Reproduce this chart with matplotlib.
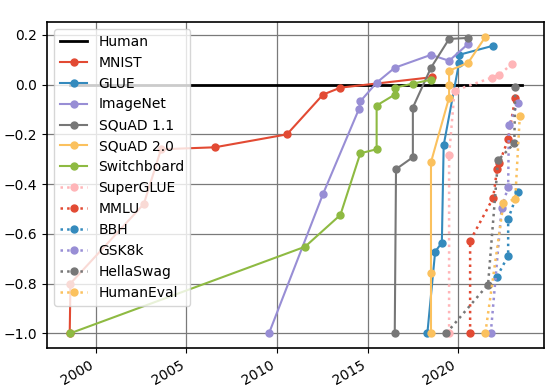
import matplotlib
matplotlib.use("Agg")
import matplotlib.pyplot as plt

# ggplot colour cycle
colors = ["#E24A33", "#348ABD", "#988ED5", "#777777", "#FBC15E", "#8EBA42", "#FFB5B8"]

human_x = [1998.6, 2023.5]
human_y = [0.0, 0.0]

mnist_x = [1998.56, 1998.6, 2002.65, 2003.6, 2006.57, 2010.55, 2012.54, 2013.5, 2018.56]
mnist_y = [-1.0, -0.80, -0.48, -0.26, -0.252, -0.2, -0.04, -0.012, 0.03]

glue_x = [2018.3, 2018.73, 2019.1, 2019.2, 2020.05, 2020.05, 2021.9]
glue_y = [-1.0, -0.672, -0.636, -0.244, 0.088, 0.12, 0.156]

imagenet_x = [2009.56, 2012.54, 2014.53, 2014.6, 2015.5, 2016.5, 2018.5, 2019.5, 2020.55]
imagenet_y = [-1.0, -0.44, -0.097, -0.067, 0.008, 0.068, 0.12, 0.096, 0.164]

squad1_x = [2016.5, 2016.57, 2017.5, 2017.5, 2018.5, 2019.5, 2020.55]
squad1_y = [-1.0, -0.34, -0.292, -0.092, 0.068, 0.184, 0.188]

squad2_x = [2018.5, 2018.5, 2018.5, 2019.5, 2019.5, 2019.5, 2020.55, 2021.5]
squad2_y = [-1.0, -0.756, -0.312, -0.052, 0.0, 0.056, 0.088, 0.192]

switchboard_x = [1998.6, 2011.55, 2013.5, 2014.6, 2015.5, 2015.5, 2016.5, 2016.5, 2017.5, 2018.5]
switchboard_y = [-1.0, -0.652, -0.524, -0.276, -0.26, -0.084, -0.04, -0.012, 0.004, 0.02]

superglue_x = [2019.5, 2019.5, 2019.8, 2021.85, 2022.27, 2022.98]
superglue_y = [-1.0, -0.284, -0.024, 0.028, 0.04, 0.084]

mmlu_x = [2020.66, 2020.66, 2021.93, 2022.15, 2022.27, 2022.76, 2023.15]
mmlu_y = [-1.0, -0.628, -0.456, -0.34, -0.316, -0.22, -0.052]

bbh_x = [2022.15, 2022.76, 2022.76, 2023.3]
bbh_y = [-0.772, -0.688, -0.54, -0.432]

gsk8k_x = [2021.8, 2022.4, 2022.76, 2022.8, 2023.3]
gsk8k_y = [-1.0, -0.496, -0.412, -0.164, -0.072]

hellaswag_x = [2019.35, 2021.65, 2022.2, 2023.1, 2023.15]
hellaswag_y = [-1.0, -0.804, -0.304, -0.236, -0.008]

humaneval_x = [2021.5, 2022.5, 2023.15, 2023.4]
humaneval_y = [-1.0, -0.476, -0.46, -0.128]

solid = [
    ("MNIST", mnist_x, mnist_y, colors[0]),
    ("GLUE", glue_x, glue_y, colors[1]),
    ("ImageNet", imagenet_x, imagenet_y, colors[2]),
    ("SQuAD 1.1", squad1_x, squad1_y, colors[3]),
    ("SQuAD 2.0", squad2_x, squad2_y, colors[4]),
    ("Switchboard", switchboard_x, switchboard_y, colors[5]),
]
dotted = [
    ("SuperGLUE", superglue_x, superglue_y, colors[6]),
    ("MMLU", mmlu_x, mmlu_y, colors[0]),
    ("BBH", bbh_x, bbh_y, colors[1]),
    ("GSK8k", gsk8k_x, gsk8k_y, colors[2]),
    ("HellaSwag", hellaswag_x, hellaswag_y, colors[3]),
    ("HumanEval", humaneval_x, humaneval_y, colors[4]),
]

fig, ax = plt.subplots(figsize=(5.48, 3.88), dpi=100)
fig.subplots_adjust(left=0.086, right=0.993, bottom=0.103, top=0.943)

ax.plot(human_x, human_y, color="black", lw=2, label="Human")
for name, x, y, c in solid:
    ax.plot(x, y, "o-", color=c, lw=1.5, ms=5, label=name)
for name, x, y, c in dotted:
    ax.plot(x, y, "o:", color=c, lw=1.8, ms=5, label=name)

ax.set_xticks([2000, 2005, 2010, 2015, 2020])
ax.set_yticks([-1.0, -0.8, -0.6, -0.4, -0.2, 0.0, 0.2])
ax.grid(True, color="#7a7a7a", lw=0.9)
ax.set_axisbelow(True)
for s in ax.spines.values():
    s.set_color("black")
    s.set_linewidth(1.2)
ax.tick_params(labelsize=10)
for lab in ax.get_xticklabels():
    lab.set_rotation(30)
    lab.set_ha("right")

ax.legend(loc="upper left", fontsize=10, framealpha=0.8)

fig.savefig("out.png")
